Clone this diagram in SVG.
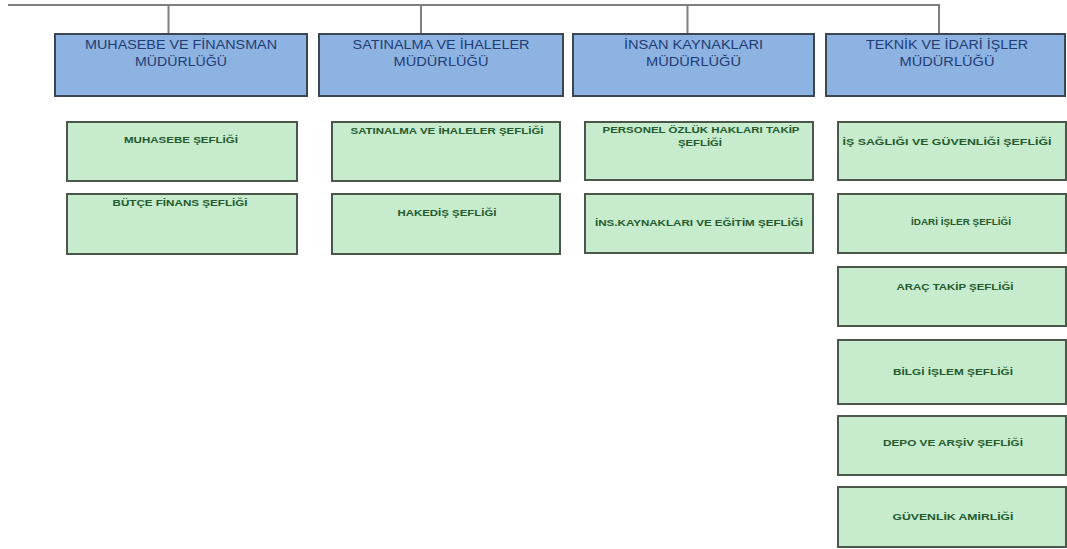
<svg xmlns="http://www.w3.org/2000/svg" width="1067" height="549" viewBox="0 0 1067 549">
<style>
.bg{fill:#ffffff}
.conn{stroke:#7f7f7f;stroke-width:2;fill:none}
.dir{fill:#8db3e2;stroke:#3c4650;stroke-width:2}
.chief{fill:#c6ebcd;stroke:#4b574b;stroke-width:2}
.dt{font-family:"Liberation Sans",Arial,sans-serif;font-size:12px;fill:#1f3c73;text-anchor:middle}
.ct{font-family:"Liberation Sans",Arial,sans-serif;font-size:9px;font-weight:bold;fill:#245a2c;text-anchor:middle}
</style>
<rect class="bg" x="0" y="0" width="1067" height="549"/>
<g id="connectors">
<path class="conn" d="M8,5 H940 M168.5,5 V34 M421,5 V34 M687.5,5 V34 M939,5 V34"/>
</g>
<g id="muhasebe-mudurlugu">
<rect class="dir" x="55" y="34" width="252" height="62"/>
<text class="dt" x="181" y="49" textLength="192" lengthAdjust="spacingAndGlyphs">MUHASEBE VE FİNANSMAN</text>
<text class="dt" x="181" y="66" textLength="92" lengthAdjust="spacingAndGlyphs">MÜDÜRLÜĞÜ</text>
</g>
<g id="satinalma-mudurlugu">
<rect class="dir" x="319" y="34" width="244" height="62"/>
<text class="dt" x="441" y="49" textLength="177" lengthAdjust="spacingAndGlyphs">SATINALMA VE İHALELER</text>
<text class="dt" x="441" y="66" textLength="95" lengthAdjust="spacingAndGlyphs">MÜDÜRLÜĞÜ</text>
</g>
<g id="insan-kaynaklari-mudurlugu">
<rect class="dir" x="573" y="34" width="241" height="62"/>
<text class="dt" x="693.5" y="49" textLength="139" lengthAdjust="spacingAndGlyphs">İNSAN KAYNAKLARI</text>
<text class="dt" x="693.5" y="66" textLength="95" lengthAdjust="spacingAndGlyphs">MÜDÜRLÜĞÜ</text>
</g>
<g id="teknik-idari-mudurlugu">
<rect class="dir" x="826" y="34" width="239" height="62"/>
<text class="dt" x="947" y="49" textLength="162" lengthAdjust="spacingAndGlyphs">TEKNİK VE İDARİ İŞLER</text>
<text class="dt" x="947" y="66" textLength="95" lengthAdjust="spacingAndGlyphs">MÜDÜRLÜĞÜ</text>
</g>
<g id="muhasebe-seflik">
<rect class="chief" x="67" y="122" width="230" height="59"/>
<text class="ct" x="181" y="143" textLength="114" lengthAdjust="spacingAndGlyphs">MUHASEBE ŞEFLİĞİ</text>
</g>
<g id="butce-finans-seflik">
<rect class="chief" x="67" y="194" width="230" height="60"/>
<text class="ct" x="180" y="206" textLength="135" lengthAdjust="spacingAndGlyphs">BÜTÇE FİNANS ŞEFLİĞİ</text>
</g>
<g id="satinalma-seflik">
<rect class="chief" x="332" y="122" width="228" height="59"/>
<text class="ct" x="447" y="134" textLength="193" lengthAdjust="spacingAndGlyphs">SATINALMA VE İHALELER ŞEFLİĞİ</text>
</g>
<g id="hakedis-seflik">
<rect class="chief" x="332" y="194" width="228" height="60"/>
<text class="ct" x="447" y="216" textLength="99" lengthAdjust="spacingAndGlyphs">HAKEDİŞ ŞEFLİĞİ</text>
</g>
<g id="personel-ozluk-seflik">
<rect class="chief" x="585" y="122" width="228" height="58"/>
<text class="ct" x="701" y="133" textLength="197" lengthAdjust="spacingAndGlyphs">PERSONEL ÖZLÜK HAKLARI TAKİP</text>
<text class="ct" x="700" y="146" textLength="44" lengthAdjust="spacingAndGlyphs">ŞEFLİĞİ</text>
</g>
<g id="ins-kaynaklari-egitim-seflik">
<rect class="chief" x="585" y="194" width="228" height="59"/>
<text class="ct" x="699" y="226" textLength="208" lengthAdjust="spacingAndGlyphs">İNS.KAYNAKLARI VE EĞİTİM ŞEFLİĞİ</text>
</g>
<g id="is-sagligi-seflik">
<rect class="chief" x="838" y="122" width="228" height="58"/>
<text class="ct" x="947" y="145" textLength="209" lengthAdjust="spacingAndGlyphs">İŞ SAĞLIĞI VE  GÜVENLİĞİ ŞEFLİĞİ</text>
</g>
<g id="idari-isler-seflik">
<rect class="chief" x="838" y="194" width="228" height="59"/>
<text class="ct" x="961" y="225" textLength="100" lengthAdjust="spacingAndGlyphs">İDARİ İŞLER ŞEFLİĞİ</text>
</g>
<g id="arac-takip-seflik">
<rect class="chief" x="838" y="267" width="228" height="59"/>
<text class="ct" x="955" y="290" textLength="117" lengthAdjust="spacingAndGlyphs">ARAÇ TAKİP ŞEFLİĞİ</text>
</g>
<g id="bilgi-islem-seflik">
<rect class="chief" x="838" y="340" width="228" height="64"/>
<text class="ct" x="953" y="375" textLength="120" lengthAdjust="spacingAndGlyphs">BİLGİ İŞLEM ŞEFLİĞİ</text>
</g>
<g id="depo-arsiv-seflik">
<rect class="chief" x="838" y="416" width="228" height="59"/>
<text class="ct" x="953" y="446" textLength="140" lengthAdjust="spacingAndGlyphs">DEPO VE ARŞİV ŞEFLİĞİ</text>
</g>
<g id="guvenlik-amirligi">
<rect class="chief" x="838" y="487" width="228" height="60"/>
<text class="ct" x="953" y="520" textLength="121" lengthAdjust="spacingAndGlyphs">GÜVENLİK AMİRLİĞİ</text>
</g>
</svg>
